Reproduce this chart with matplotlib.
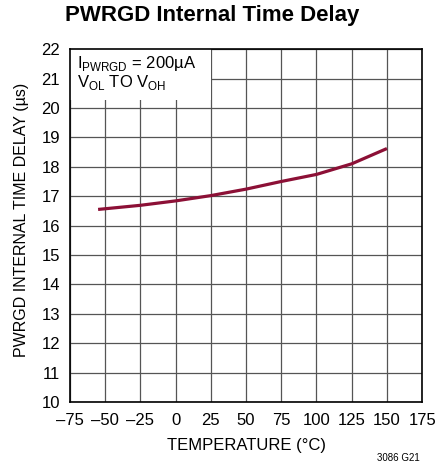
import matplotlib
matplotlib.use('Agg')
import matplotlib.pyplot as plt
from matplotlib.patches import Rectangle

temp = [-55, -25, 0, 25, 50, 75, 100, 125, 150]
delay = [16.55, 16.69, 16.84, 17.02, 17.24, 17.50, 17.74, 18.10, 18.62]

xticks = [-75, -50, -25, 0, 25, 50, 75, 100, 125, 150, 175]
yticks = list(range(10, 23))

plt.rcParams['font.family'] = ['Liberation Sans', 'DejaVu Sans']
plt.rcParams['mathtext.fontset'] = 'custom'
plt.rcParams['mathtext.rm'] = 'Liberation Sans'

fig = plt.figure(figsize=(4.37, 4.72), dpi=100)
ax = fig.add_axes([0.160, 0.148, 0.806, 0.748])

ax.plot(temp, delay, color='#8c1036', linewidth=2.3, zorder=3, solid_capstyle='butt')

ax.set_xlim(-75, 175)
ax.set_ylim(10, 22)
ax.set_xticks(xticks)
ax.set_xticklabels([str(t).replace('-', '\u2013') for t in xticks])
ax.set_yticks(yticks)
ax.tick_params(length=0, labelsize=12)
ax.tick_params(axis='x', pad=8)
ax.tick_params(axis='y', pad=7)
ax.set_axisbelow(True)
ax.grid(True, color='#555555', linewidth=0.9)
for s in ax.spines.values():
    s.set_linewidth(1.2)
    s.set_color('black')

# white box behind the condition text
ax.add_patch(Rectangle((0, 0.855), 0.40, 0.145, transform=ax.transAxes,
                       facecolor='white', edgecolor='none', zorder=2))
ax.text(0.02, 0.985, 'I$_{\\mathrm{PWRGD}}$ = 200µA\nV$_{\\mathrm{OL}}$ TO V$_{\\mathrm{OH}}$',
        transform=ax.transAxes, va='top', ha='left', fontsize=12,
        linespacing=0.95, zorder=4)

ax.set_xlabel('TEMPERATURE (°C)', fontsize=12, labelpad=7)
ax.set_ylabel('PWRGD INTERNAL TIME DELAY (µs)', fontsize=11.5, labelpad=10)
ax.yaxis.set_label_coords(-0.115, 0.515)
fig.suptitle('PWRGD Internal Time Delay', fontsize=16, fontweight='bold', x=0.485, y=0.99)
fig.text(0.96, 0.02, '3086 G21', fontsize=7, ha='right', va='bottom')

fig.savefig('out.png', dpi=100)
